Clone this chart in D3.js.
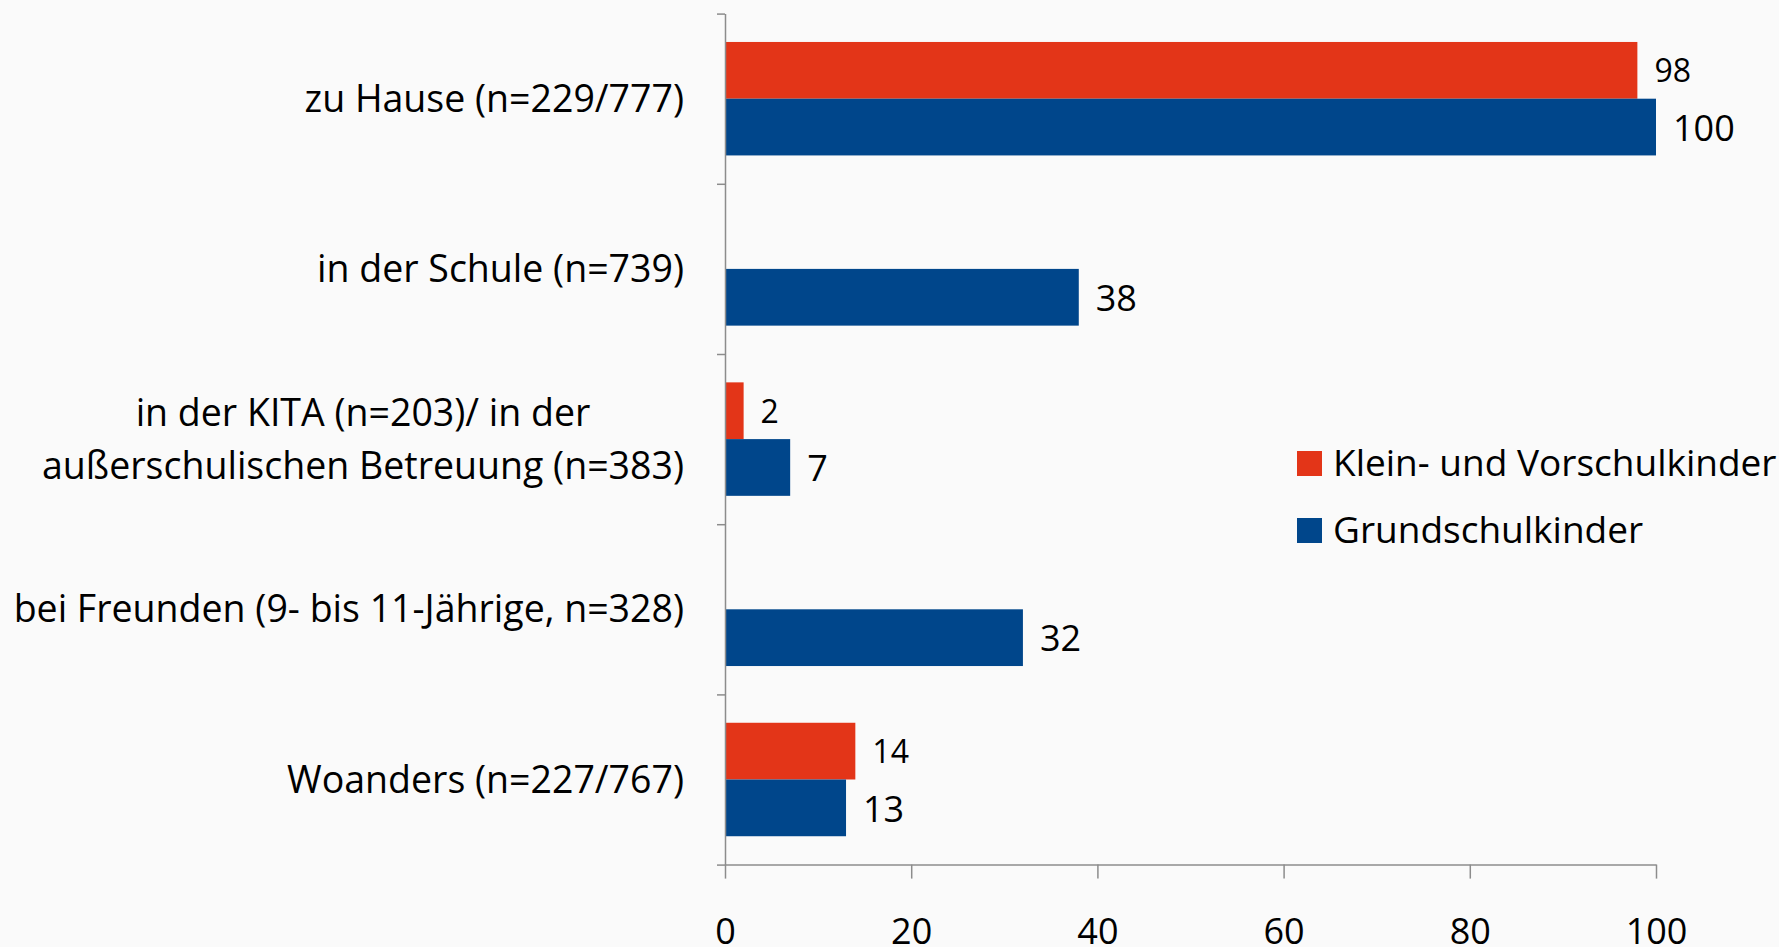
<!DOCTYPE html>
<html>
<head>
<meta charset="utf-8">
<script src="https://cdn.jsdelivr.net/npm/d3@7"></script>
<style>
  body { margin: 0; background: #fafafa; }
  svg text { font-family: "Open Sans", sans-serif; fill: #000; }
  .axis path, .axis line { stroke: #8c8c8c; stroke-width: 1.5; }
</style>
</head>
<body>
<svg id="chart" width="1779" height="947"></svg>
<script>
// data
var categories = [
  ["zu Hause (n=229/777)"],
  ["in der Schule (n=739)"],
  ["in der KITA (n=203)/ in der", "außerschulischen Betreuung (n=383)"],
  ["bei Freunden (9- bis 11-Jährige, n=328)"],
  ["Woanders (n=227/767)"]
];
var seriesNames = ["Klein- und Vorschulkinder", "Grundschulkinder"];
var kleinValues = [98, null, 2, null, 14];
var grundValues = [100, 38, 7, 32, 13];
var xTicks = [0, 20, 40, 60, 80, 100];

var colors = ["#e33518", "#00468b"];
var labelSizes = [32, 36];

var svg = d3.select("#chart"),
    plotLeft = 725, plotRight = 1656, plotTop = 13.6, plotBottom = 864.6;

var x = d3.scaleLinear().domain([0, 100]).range([plotLeft, plotRight]);
var y = d3.scaleBand().domain(d3.range(categories.length)).range([plotTop, plotBottom]);
var ySub = d3.scaleBand().domain([0, 1]).range([0, y.bandwidth()])
    .paddingInner(0).paddingOuter(0.5);

var rows = [];
[kleinValues, grundValues].forEach(function(vals, s) {
  vals.forEach(function(v, i) {
    if (v != null) rows.push({cat: i, s: s, v: v});
  });
});

var g = svg.append("g");

g.selectAll("rect.bar")
    .data(rows)
  .enter().append("rect")
    .attr("class", "bar")
    .attr("x", x(0))
    .attr("y", function(d) { return y(d.cat) + ySub(d.s); })
    .attr("width", function(d) { return x(d.v) - x(0); })
    .attr("height", ySub.bandwidth())
    .attr("fill", function(d) { return colors[d.s]; });

g.selectAll("text.val")
    .data(rows)
  .enter().append("text")
    .attr("class", "val")
    .attr("x", function(d) { return x(d.v) + 17; })
    .attr("y", function(d) { return y(d.cat) + ySub(d.s) + ySub.bandwidth() / 2; })
    .attr("dy", "0.38em")
    .style("font-size", function(d) { return labelSizes[d.s] + "px"; })
    .text(function(d) { return d.v; });

// category axis: ticks sit between categories
var yEdge = d3.scaleLinear().domain([0, categories.length]).range([plotTop, plotBottom]);
svg.append("g")
    .attr("class", "axis")
    .attr("transform", "translate(" + plotLeft + ",0)")
    .call(d3.axisLeft(yEdge).tickValues(d3.range(categories.length + 1))
      .tickFormat("").tickSize(8).tickSizeOuter(0));

svg.append("g")
    .attr("class", "axis xaxis")
    .attr("transform", "translate(0," + plotBottom + ")")
    .call(d3.axisBottom(x).tickValues(xTicks).tickSize(14).tickSizeOuter(0).tickPadding(40))
    .selectAll("text")
    .style("font-size", "36px");

// category labels, right edge at 684; wrapped labels are centred on their widest line
var lineH = 53, labelRight = 684;
categories.forEach(function(lines, i) {
  var cy = y(i) + y.bandwidth() / 2;
  var t = svg.append("text")
      .style("font-size", "37.5px");
  var spans = lines.map(function(l, k) {
    return t.append("tspan")
        .attr("y", cy + (k - (lines.length - 1) / 2) * lineH)
        .attr("dy", "0.35em")
        .text(l);
  });
  if (lines.length == 1) {
    t.attr("text-anchor", "end");
    spans[0].attr("x", labelRight);
  } else {
    var maxW = d3.max(spans, function(s) { return s.node().getComputedTextLength(); });
    t.attr("text-anchor", "middle");
    spans.forEach(function(s) { s.attr("x", labelRight - maxW / 2); });
  }
});

// legend
var legend = svg.append("g").attr("transform", "translate(1297,451)");
seriesNames.forEach(function(name, i) {
  var row = legend.append("g").attr("transform", "translate(0," + i * 67 + ")");
  row.append("rect").attr("width", 25).attr("height", 25).attr("fill", colors[i]);
  row.append("text")
      .attr("x", 36).attr("y", 12.5).attr("dy", "0.35em")
      .style("font-size", "37px")
      .text(name);
});
</script>
</body>
</html>
